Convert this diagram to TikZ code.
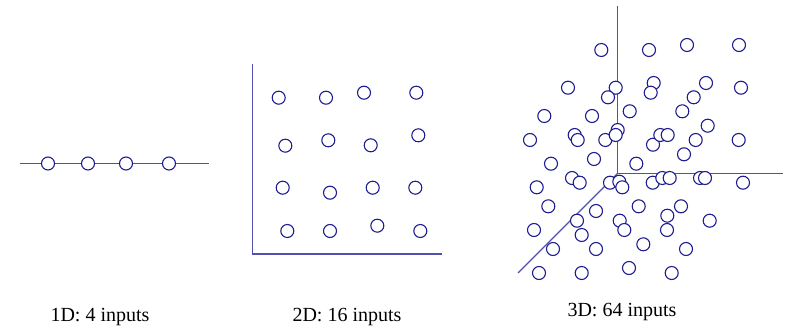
\documentclass[tikz,border=0pt]{standalone}
\usepackage{fontspec}
\setmainfont{Liberation Serif}
\usetikzlibrary{positioning}
\definecolor{axisblue}{RGB}{80,80,175}
\definecolor{dotblue}{RGB}{30,30,145}

\begin{document}
\begin{tikzpicture}[x=1pt, y=-1pt, every node/.style={font=\fontsize{20}{24}\selectfont},
  unit/.style={circle, draw=dotblue, fill=white, line width=1.1pt, minimum size=13pt, inner sep=0pt},
  axis/.style={axisblue, line width=1.1pt}]
  \useasboundingbox (0,0) rectangle (787,326);
  % 1D: a line of inputs
  \coordinate (l1) at (20,163.5);
  \coordinate (r1) at (209,163.5);
  \draw[axis] (l1) -- (r1);
  \foreach \x [count=\i] in {48,88,126,169}
    \node[unit] (a\i) at (\x,163.5) {};
  \node[anchor=base] (t1) at (100,321) {1D: 4 inputs};
  % 2D: a grid of inputs
  \coordinate (o2) at (252.5,254);
  \coordinate (y2) at (252.5,64);
  \coordinate (x2) at (442,254);
  \draw[axis] (y2) -- (o2) -- (x2);
  \foreach \x/\y [count=\i] in {278.7/97.7, 326/97.7, 364/92.7, 416.3/92.7,
      285.3/145.7, 328.3/140.3, 370.7/145.3, 418.3/135.3,
      282.7/187.7, 330/192.7, 372.7/187.7, 415.3/187.7,
      287.3/231, 330/231, 377.3/225.7, 420.3/231}
    \node[unit] (b\i) at (\x,\y) {};
  \node[anchor=base] (t2) at (347,321) {2D: 16 inputs};
  % 3D: a cloud of inputs
  \coordinate (o3) at (617.7,173.3);
  \coordinate (z3) at (617.7,6.5);
  \coordinate (x3) at (783,173.3);
  \coordinate (y3) at (518,273);
  \draw[axis] (z3) -- (o3) -- (x3);
  \draw[axis] (o3) -- (y3);
  \foreach \x/\y [count=\i] in {601.3/50, 649/50, 687/45, 739/45,
      568/87.7, 615.7/87.7, 653.7/83, 650.7/92.7, 706/83, 741/87.7,
      608/97.3, 693.7/97.3, 544.3/116, 592/116, 629.7/111.3, 682.3/111.3,
      707.7/125.7, 530/140, 574.7/135, 577.7/140, 605.3/140, 617.7/130,
      615.7/135, 653/144.7, 660.3/135, 667.7/135, 695.7/140, 738.7/140,
      684/154.3, 551/163.7, 594/159, 636.3/163.7, 536.7/187.3, 572/178,
      579.7/182.7, 610/182.7, 619.3/181.7, 622.3/187.3, 652.7/182.7,
      662.3/178, 669.7/178, 700/178, 705/178, 743/182.7, 548.3/206.3,
      596/211, 638.7/206.3, 681/206.3, 577/220.7, 619.7/220.7,
      667.3/215.7, 709.7/220.7, 534/230, 581.7/235, 624.3/230, 667/230,
      553/249, 596/249, 643.3/244.3, 686/249, 539/273, 581.7/273,
      629/268, 671.7/273}
    \node[unit] (c\i) at (\x,\y) {};
  \node[anchor=base] (t3) at (622,316.5) {3D: 64 inputs};
\end{tikzpicture}
\end{document}
